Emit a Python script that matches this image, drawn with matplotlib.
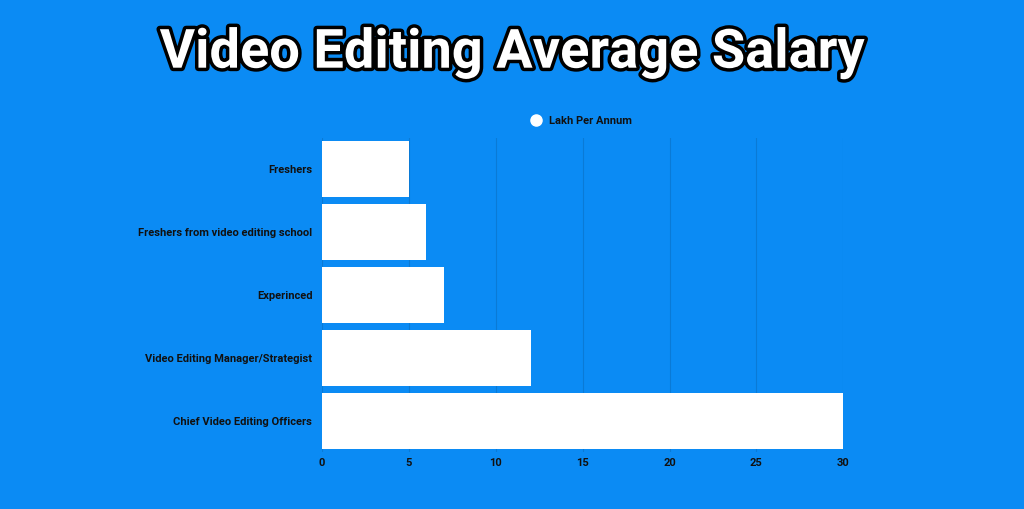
import matplotlib.pyplot as plt
import matplotlib.patheffects as pe
from matplotlib.lines import Line2D

categories = ["Freshers", "Freshers from video editing school", "Experinced",
              "Video Editing Manager/Strategist", "Chief Video Editing Officers"]
salary = [5, 6, 7, 12, 30]
xticks = [0, 5, 10, 15, 20, 25, 30]

bg = "#0b8bf4"
plt.rcParams['font.family'] = ['Roboto', 'DejaVu Sans']

fig = plt.figure(figsize=(10.24, 5.09), dpi=100, facecolor=bg)
ax = fig.add_axes([0.3145, 0.112, 0.509, 0.617], facecolor=bg)

y = list(range(len(categories)))
ax.barh(y, salary, height=0.89, color="white", zorder=3)
ax.set_ylim(len(categories) - 0.5, -0.5)
ax.set_xlim(0, 30)
ax.set_yticks(y)
ax.set_yticklabels(categories, fontsize=8, fontweight="bold", color="#111111")
ax.set_xticks(xticks)
ax.set_xticklabels([str(v) for v in xticks], fontsize=8, fontweight="bold", color="#111111")
ax.tick_params(axis="y", length=0, pad=7)
ax.tick_params(axis="x", length=0, pad=4)
ax.xaxis.grid(True, color="#0a7ad6", linewidth=0.8, zorder=0)
for s in ax.spines.values():
    s.set_visible(False)

handle = Line2D([], [], marker="o", linestyle="", markersize=8,
                markerfacecolor="white", markeredgecolor="white")
fig.legend([handle], ["Lakh Per Annum"], loc="center", bbox_to_anchor=(0.565, 0.762),
           frameon=False, handletextpad=0.2,
           prop={"size": 8, "weight": "bold"}, labelcolor="#111111")

fig.text(0.5, 0.895, "Video Editing Average Salary", ha="center", va="center",
         fontsize=39, fontweight="bold", color="white",
         path_effects=[pe.withStroke(linewidth=5, foreground="black")])

fig.savefig("out.png", dpi=100, facecolor=bg)
